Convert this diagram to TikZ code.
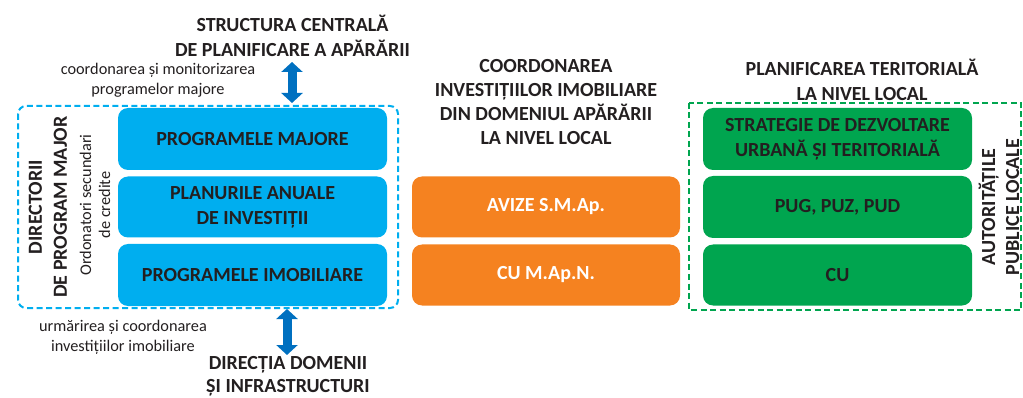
\documentclass[tikz,border=0pt]{standalone}
\usepackage{fontspec}
\setmainfont{Carlito}
\usetikzlibrary{arrows.meta}
\definecolor{txt}{HTML}{231F20}
\definecolor{cCyan}{HTML}{00AEEF}
\definecolor{cArrow}{HTML}{0070C0}
\definecolor{cOrange}{HTML}{F58220}
\definecolor{cGreen}{HTML}{00A54F}
\tikzset{
  box/.style={rounded corners=10pt, minimum width=269pt, inner sep=0pt, align=center,
    font=\fontsize{20}{25}\selectfont\bfseries, text=txt},
  bluebox/.style={box, fill=cCyan},
  orangebox/.style={box, fill=cOrange, text=white},
  greenbox/.style={box, fill=cGreen},
  title/.style={align=center, font=\fontsize{20}{25}\selectfont\bfseries, text=txt, inner sep=0pt},
  small/.style={align=center, font=\fontsize{16.3}{19.5}\selectfont, text=txt, inner sep=0pt},
  dashframe/.style={line width=2pt, dash pattern=on 6pt off 3.5pt},
  bigarrow/.style={line width=9pt, cArrow, {Triangle[width=21pt,length=10pt]}-{Triangle[width=21pt,length=10pt]}, shorten >=0pt, shorten <=0pt}
}
\begin{document}
\begin{tikzpicture}[x=1pt,y=-1pt]
\useasboundingbox (0,0) rectangle (1023,398);
% dashed frames
\draw[dashframe, cCyan, rounded corners=8pt] (18,106) rectangle (398,308);
\draw[dashframe, cGreen] (689,103) rectangle (1021,310);
% blue boxes
\node[bluebox, minimum height=62pt] (pm) at (252.5,139) {PROGRAMELE MAJORE};
\node[bluebox, minimum height=61pt] (pai) at (252.5,207) {PLANURILE ANUALE\\DE INVESTIȚII};
\node[bluebox, minimum height=62pt] (pim) at (252.5,275) {PROGRAMELE IMOBILIARE};
% left rotated texts
\node[title, rotate=90] (dir) at (48,207) {DIRECTORII\\DE PROGRAM MAJOR};
\node[small, rotate=90, font=\fontsize{16.3}{19}\selectfont] (ord) at (95,205) {Ordonatori secundari\\de credite};
% orange boxes
\node[orangebox, minimum height=61pt, minimum width=268pt] (av) at (546,207) {AVIZE S.M.Ap.};
\node[orangebox, minimum height=61pt, minimum width=268pt] (cum) at (546,275) {CU M.Ap.N.};
% green boxes
\node[greenbox, minimum height=62pt] (sd) at (837.5,139) {STRATEGIE DE DEZVOLTARE\\URBANĂ ȘI TERITORIALĂ};
\node[greenbox, minimum height=62pt] (pug) at (837.5,207) {PUG, PUZ, PUD};
\node[greenbox, minimum height=61pt] (cu) at (837.5,275) {CU};
\node[title, rotate=90, font=\fontsize{20}{24}\selectfont\bfseries] (apl) at (999,207) {AUTORITĂȚILE\\PUBLICE LOCALE};
% titles
\node[title] (scp) at (292.5,35.5) {STRUCTURA CENTRALĂ\\DE PLANIFICARE A APĂRĂRII};
\node[small] (cm) at (158,80) {coordonarea și monitorizarea\\programelor majore};
\node[title, font=\fontsize{20}{24}\selectfont\bfseries] (coord) at (546,102) {COORDONAREA\\INVESTIȚIILOR IMOBILIARE\\DIN DOMENIUL APĂRĂRII\\LA NIVEL LOCAL};
\node[title] (ptl) at (862,79.5) {PLANIFICAREA TERITORIALĂ\\LA NIVEL LOCAL};
\node[small] (uc) at (123,337.5) {urmărirea și coordonarea\\investițiilor imobiliare};
\node[title, font=\fontsize{20}{23}\selectfont\bfseries] (ddi) at (288,376.5) {DIRECȚIA DOMENII\\ȘI INFRASTRUCTURI};
% arrows
\coordinate (a1t) at (292,62);
\coordinate (a1b) at (292,103);
\coordinate (a2t) at (287,309);
\coordinate (a2b) at (287,355);
\draw[bigarrow] (a1t) -- (a1b);
\draw[bigarrow] (a2t) -- (a2b);
\end{tikzpicture}
\end{document}
